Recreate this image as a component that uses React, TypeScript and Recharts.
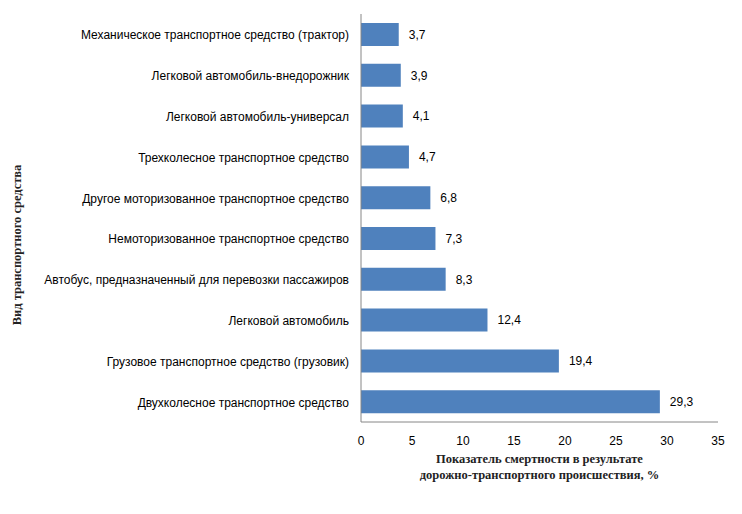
import React from 'react'
import { BarChart, Bar, XAxis, YAxis, LabelList } from 'recharts'

// top to bottom as drawn
const categories = [
  'Механическое транспортное средство (трактор)',
  'Легковой автомобиль-внедорожник',
  'Легковой автомобиль-универсал',
  'Трехколесное транспортное средство',
  'Другое моторизованное транспортное средство',
  'Немоторизованное транспортное средство',
  'Автобус, предназначенный для перевозки пассажиров',
  'Легковой автомобиль',
  'Грузовое транспортное средство (грузовик)',
  'Двухколесное транспортное средство',
]
const values = [3.7, 3.9, 4.1, 4.7, 6.8, 7.3, 8.3, 12.4, 19.4, 29.3]
const xTicks = [0, 5, 10, 15, 20, 25, 30, 35]

const xTitle = [
  'Показатель смертности в результате',
  'дорожно-транспортного происшествия, %',
]
const yTitle = 'Вид транспортного средства'

const data = categories.map((name, i) => ({ name, value: values[i] }))

const SANS = '"Liberation Sans", Arial, sans-serif'
const SERIF = '"Liberation Serif", "Times New Roman", serif'

const XTitle = ({ viewBox }: any) => {
  const cx = viewBox.x + viewBox.width / 2
  return (
    <text textAnchor="middle" fontFamily={SERIF} fontWeight="bold" fontSize={12.5} fill="#222">
      <tspan x={cx} y={viewBox.y + 41}>{xTitle[0]}</tspan>
      <tspan x={cx} y={viewBox.y + 57}>{xTitle[1]}</tspan>
    </text>
  )
}

const YTitle = () => (
  <text
    x={21}
    y={245}
    transform="rotate(-90 21 245)"
    textAnchor="middle"
    fontFamily={SERIF}
    fontWeight="bold"
    fontSize={12.5}
    fill="#222"
  >
    {yTitle}
  </text>
)

const CatTick = ({ x, y, payload }: any) => (
  <text x={x} y={y} dy={5} textAnchor="end" fontFamily={SANS} fontSize={12} fill="#000">
    {payload.value}
  </text>
)

const fmt = (v: any) => String(v).replace('.', ',')

export default function App() {
  return (
    <div style={{ position: 'absolute', left: 0, top: 0, background: '#fff' }}>
      <BarChart
        width={742}
        height={514}
        data={data}
        layout="vertical"
        margin={{ top: 14, right: 24, bottom: 0, left: 0 }}
      >
        <XAxis
          type="number"
          domain={[0, 35]}
          ticks={xTicks}
          interval={0}
          height={92}
          axisLine={{ stroke: '#868686' }}
          tickLine={false}
          tickMargin={8}
          tick={{ fontFamily: SANS, fontSize: 12, fill: '#000' }}
          label={<XTitle />}
        />
        <YAxis
          type="category"
          dataKey="name"
          width={361}
          interval={0}
          axisLine={{ stroke: '#868686' }}
          tickLine={false}
          tickMargin={6}
          tick={<CatTick />}
        />
        <Bar dataKey="value" fill="#4F81BD" barSize={23} isAnimationActive={false}>
          <LabelList
            dataKey="value"
            position="right"
            offset={10}
            formatter={fmt}
            style={{ fontFamily: SANS, fontSize: 12, fill: '#000' }}
          />
        </Bar>
        <YTitle />
      </BarChart>
    </div>
  )
}
